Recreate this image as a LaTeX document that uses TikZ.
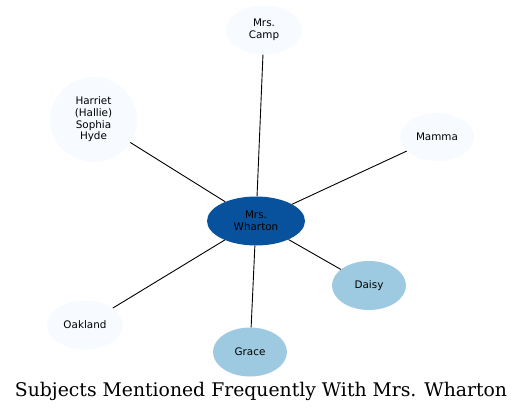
\documentclass[tikz,border=0pt]{standalone}
\usepackage{fontspec}
\setmainfont{DejaVu Serif}
\newfontfamily\nodefont{DejaVu Sans}
\usetikzlibrary{shapes.geometric}
\definecolor{pale}{HTML}{F7FBFF}
\definecolor{mid}{HTML}{9ECAE1}
\definecolor{deep}{HTML}{08519C}

\begin{document}
\begin{tikzpicture}[x=1pt, y=-1pt, main/.style = {ellipse, fill=pale, inner sep=0pt, align=center, font=\nodefont\fontsize{10.4}{11.7}\selectfont}, edge/.style = {draw, line width=0.9pt}]
        \useasboundingbox (0,0) rectangle (523,413);
        \node[main, fill=deep, minimum width=98pt, minimum height=49pt] (wharton) at (256,221) {Mrs.\\Wharton};
        \node[main, minimum width=76pt, minimum height=49pt] (camp) at (264,30) {Mrs.\\Camp};
        \node[main, minimum width=87pt, minimum height=85pt] (hallie) at (93.5,119.5) {Harriet\\(Hallie)\\Sophia\\Hyde};
        \node[main, minimum width=74pt, minimum height=48pt] (mamma) at (437,137) {Mamma};
        \node[main, minimum width=76pt, minimum height=49pt] (oakland) at (85,325) {Oakland};
        \node[main, fill=mid, minimum width=74pt, minimum height=49pt] (grace) at (250,352) {Grace};
        \node[main, fill=mid, minimum width=74pt, minimum height=49pt] (daisy) at (369,285.5) {Daisy};
        \draw[edge] (wharton) -- (camp);
        \draw[edge] (wharton) -- (hallie);
        \draw[edge] (wharton) -- (mamma);
        \draw[edge] (wharton) -- (oakland);
        \draw[edge] (wharton) -- (grace);
        \draw[edge] (wharton) -- (daisy);
        \node[anchor=base, font=\fontsize{18.8}{22}\selectfont] (title) at (261,396) {Subjects Mentioned Frequently With Mrs. Wharton};
    \end{tikzpicture}
\end{document}
